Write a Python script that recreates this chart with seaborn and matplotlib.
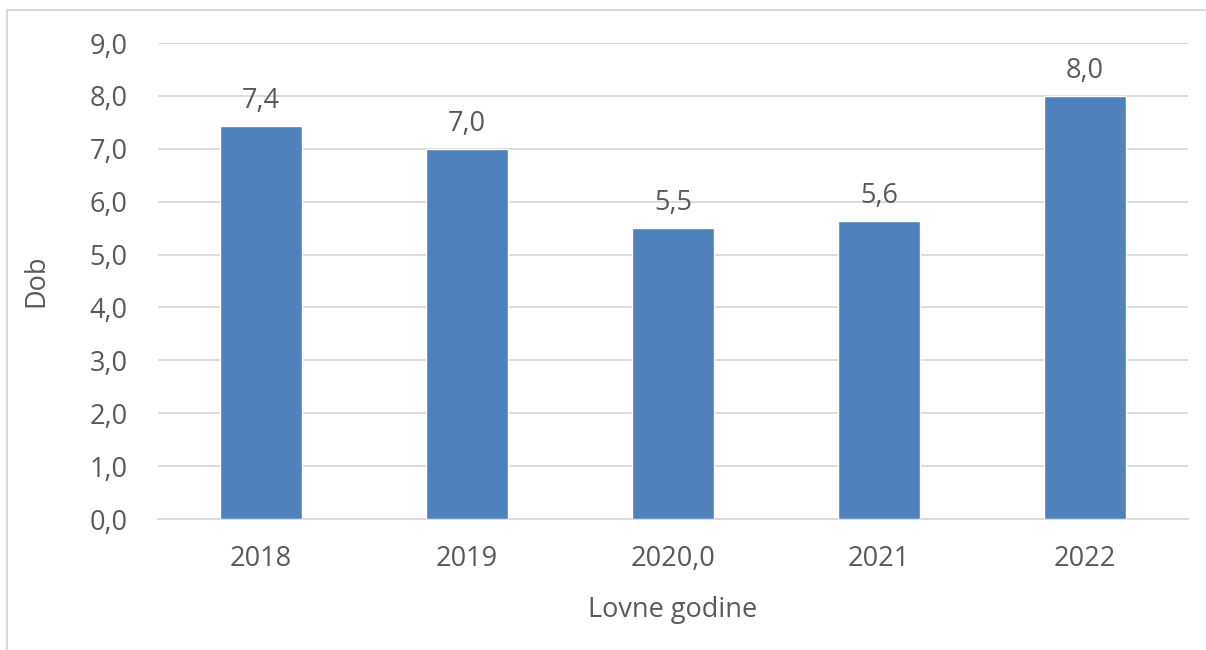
import matplotlib
matplotlib.use("Agg")
import matplotlib.pyplot as plt
import seaborn as sns
import pandas as pd
from matplotlib.patches import Rectangle

godine = ["2018", "2019", "2020,0", "2021", "2022"]
dob = [7.43, 7.0, 5.5, 5.63, 8.0]
y_ticks = [0, 1, 2, 3, 4, 5, 6, 7, 8, 9]

sns.set_style("white")
plt.rcParams["font.family"] = ["Open Sans", "DejaVu Sans"]

text_col = "#595959"
bar_col = "#4F81BD"
grid_col = "#D9D9D9"
fs = 19.5

df = pd.DataFrame({"godina": godine, "dob": dob})

fig = plt.figure(figsize=(12.06, 6.5), dpi=100)
ax = fig.add_axes([158 / 1206, 1 - 519 / 650, 1030 / 1206, 476 / 650])

sns.barplot(data=df, x="godina", y="dob", color=bar_col, width=0.4,
            saturation=1, ax=ax, zorder=3)

ax.set_ylim(0, 9)
ax.set_xlim(-0.5, 4.5)
ax.set_yticks(y_ticks)
ax.set_yticklabels([f"{t:.1f}".replace(".", ",") for t in y_ticks])
ax.yaxis.grid(True, color=grid_col, linewidth=1.3, zorder=0)
ax.set_axisbelow(True)
for s in ["top", "right", "left"]:
    ax.spines[s].set_visible(False)
ax.spines["bottom"].set_color(grid_col)
ax.spines["bottom"].set_linewidth(1.3)
ax.tick_params(axis="both", length=0, labelsize=fs, labelcolor=text_col)
ax.tick_params(axis="y", pad=22)
ax.tick_params(axis="x", pad=19)

for i, v in enumerate(dob):
    ax.annotate(f"{v:.1f}".replace(".", ","), (i, v), xytext=(0, 8),
                textcoords="offset points", ha="center", va="bottom",
                fontsize=fs, color=text_col)

ax.set_xlabel("Lovne godine", fontsize=fs, color=text_col, labelpad=16)
ax.set_ylabel("Dob", fontsize=fs, color=text_col, labelpad=28)

# outer chart frame
fig.patches.append(Rectangle((7 / 1206, -0.1), 1.2, 1 - 10 / 650 + 0.1,
                             transform=fig.transFigure, fill=False,
                             edgecolor="#D9D9D9", linewidth=1.5))

fig.savefig("out.png", dpi=100)
